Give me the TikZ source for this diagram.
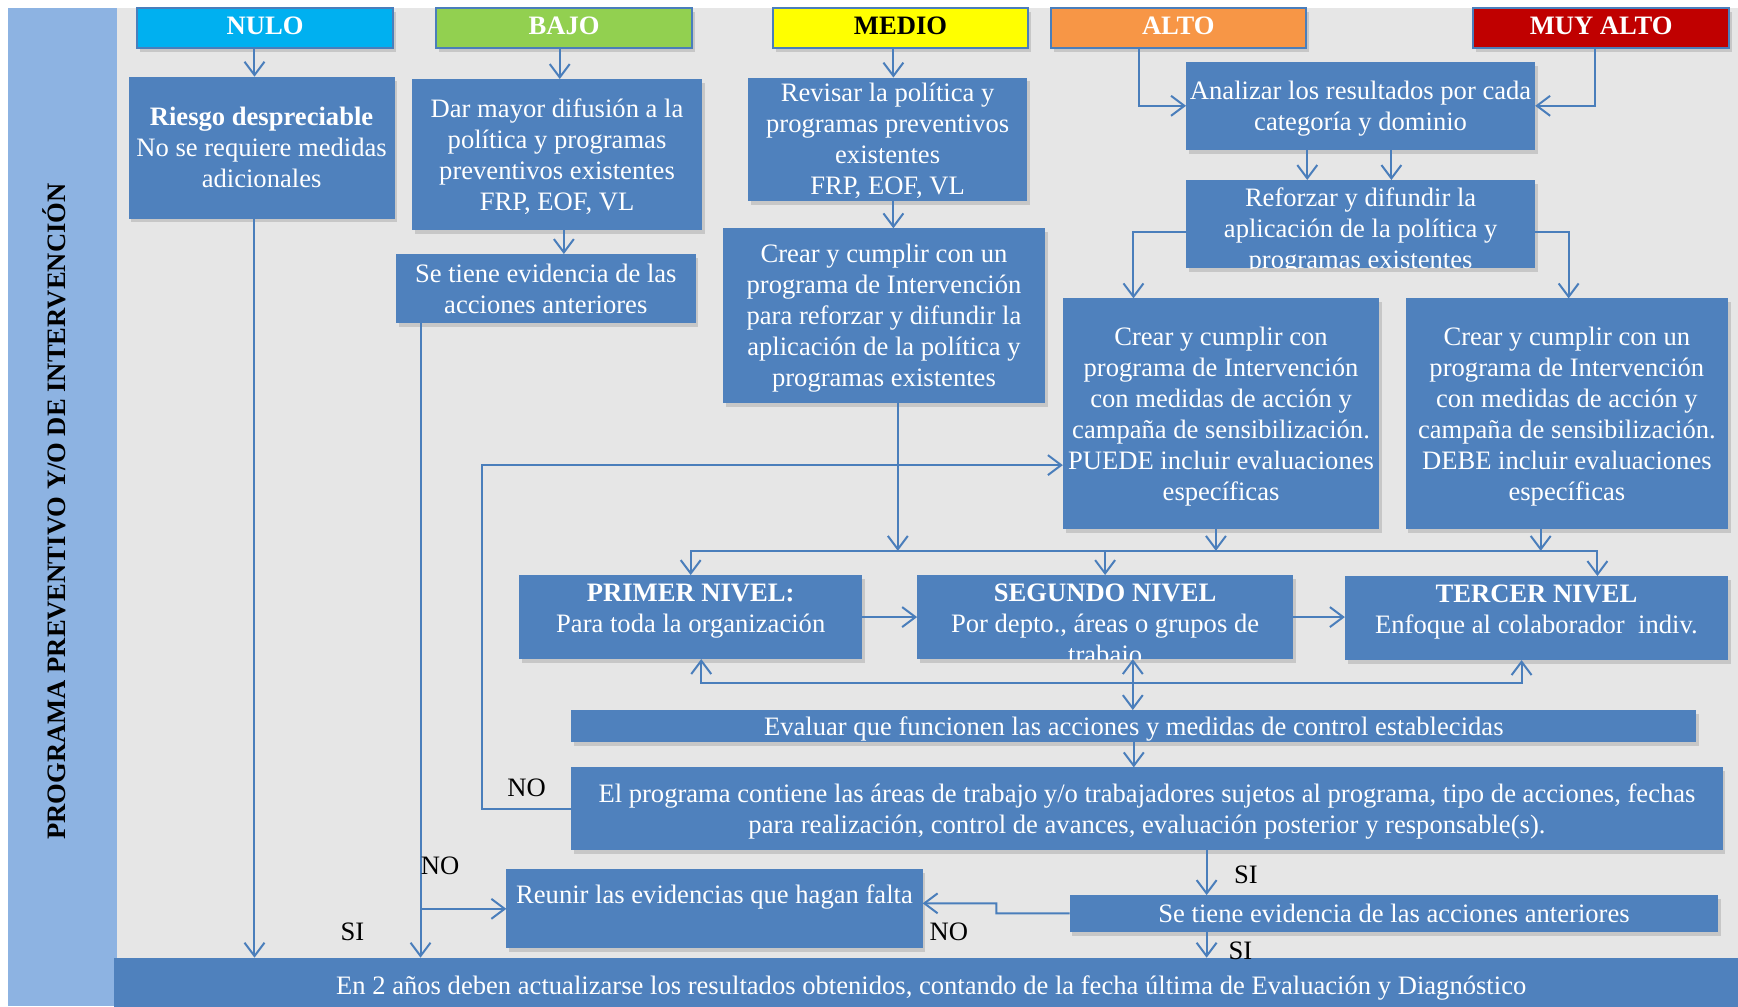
\documentclass[tikz,border=0pt]{standalone}
\usepackage{fontspec}
\setmainfont{Liberation Serif}
\usetikzlibrary{positioning, calc, arrows.meta, shadows}

\definecolor{boxblue}{HTML}{4F81BD}
\definecolor{lineblue}{HTML}{4A7EBB}
\definecolor{bandblue}{HTML}{8DB3E2}
\definecolor{bggray}{HTML}{E6E6E6}
\definecolor{nulocol}{HTML}{00B0F0}
\definecolor{bajocol}{HTML}{92D050}
\definecolor{mediocol}{HTML}{FFFF00}
\definecolor{altocol}{HTML}{F79646}
\definecolor{muycol}{HTML}{C00000}

\begin{document}
\begin{tikzpicture}[x=1pt, y=-1pt,
    box/.style={rectangle, fill=boxblue, text=white, align=center, anchor=north west,
      inner sep=0pt, outer sep=0pt, text depth=-1pt, font=\fontsize{24}{28}\selectfont,
      drop shadow={shadow xshift=2.5pt, shadow yshift=-3.5pt, opacity=.3}},
    head/.style={box, draw=lineblue, line width=1.5pt, text height=15.8pt, text depth=4pt,
      font=\fontsize{24}{28}\selectfont\bfseries},
    txt/.style={align=center, inner sep=0pt, text=white, font=\fontsize{24}{28}\selectfont},
    lbl/.style={inner sep=0pt, font=\fontsize{24}{28}\selectfont},
    link/.style={draw=lineblue, line width=1.8pt, ->},
    >={Straight Barb[length=12pt, width=18pt]}]

    \fill[white] (0,0) rectangle (1568,908);
    \useasboundingbox (0,0) rectangle (1568,908);
    \fill[bggray] (7,7.5) rectangle (1568,908);
    \fill[bandblue] (7,7.5) rectangle (105.5,908);
    \node[rotate=90, inner sep=0pt, font=\fontsize{24}{28}\selectfont\bfseries] (Titulo) at (49,461.5)
      {PROGRAMA PREVENTIVO Y/O DE INTERVENCIÓN};

    \node[head, fill=nulocol, minimum width=231, minimum height=36] (Nulo) at (123.6,7.5) {NULO};
    \node[head, fill=bajocol, minimum width=231, minimum height=36] (Bajo) at (393.5,7.5) {BAJO};
    \node[head, fill=mediocol, text=black, minimum width=230.5, minimum height=36] (Medio) at (697.2,7.5) {MEDIO};
    \node[head, fill=altocol, minimum width=230, minimum height=36] (Alto) at (948,7.5) {ALTO};
    \node[head, fill=muycol, minimum width=231, minimum height=36] (MuyAlto) at (1329,7.5) {MUY ALTO};

    \node[box, minimum width=240, minimum height=128] (Riesgo) at (116,69.2)
      {\textbf{Riesgo despreciable}\\No se requiere medidas\\adicionales};
    \node[box, minimum width=261.5, minimum height=136.2] (Difusion) at (371.8,71.3)
      {Dar mayor difusión a la\\política y programas\\preventivos existentes\\FRP, EOF, VL};
    \node[box, minimum width=270.2, minimum height=62.5] (EvidB) at (357.3,229.2)
      {Se tiene evidencia de las\\acciones anteriores};
    \node[box, minimum width=251.6, minimum height=111] (Revisar) at (675,70)
      {Revisar la política y\\programas preventivos\\existentes\\FRP, EOF, VL};
    \node[box, minimum width=290.4, minimum height=157.3] (CrearM) at (652.3,206)
      {Crear y cumplir con un\\programa de Intervención\\para reforzar y difundir la\\aplicación de la política y\\programas existentes};
    \node[box, minimum width=315, minimum height=79.7] (Analizar) at (1070,55.6)
      {Analizar los resultados por cada\\categoría y dominio};
    \node[box, minimum width=315, minimum height=79.7] (Reforzar) at (1070,162.4) {};
    \node[box, minimum width=285.4, minimum height=208.1] (CrearA) at (958.9,269.2)
      {Crear y cumplir con\\programa de Intervención\\con medidas de acción y\\campaña de sensibilización.\\PUEDE incluir evaluaciones\\específicas};
    \node[box, minimum width=290.8, minimum height=208.1] (CrearMA) at (1268.2,269.2)
      {Crear y cumplir con un\\programa de Intervención\\con medidas de acción y\\campaña de sensibilización.\\DEBE incluir evaluaciones\\específicas};
    \node[box, minimum width=309.5, minimum height=75.8] (Primer) at (468.4,518.8) {};
    \node[box, minimum width=339.2, minimum height=75.8] (Segundo) at (827.4,518.8) {};
    \node[box, minimum width=345.7, minimum height=75.8] (Tercer) at (1213.3,519.7) {};
    \node[box, minimum width=1015.2, minimum height=28.5] (Evaluar) at (515.3,640.6)
      {Evaluar que funcionen las acciones y medidas de control establecidas};
    \node[box, minimum width=1038.9, minimum height=74.6] (Contiene) at (515.3,692.3)
      {El programa contiene las áreas de trabajo y/o trabajadores sujetos al programa, tipo de acciones, fechas\\para realización, control de avances, evaluación posterior y responsable(s).};
    \node[box, minimum width=375.6, minimum height=71.3] (Reunir) at (456.8,784.3) {};
    \node[box, minimum width=585.3, minimum height=33.1] (EvidF) at (965,807.5)
      {Se tiene evidencia de las acciones anteriores};
    \node[box, minimum width=1475, minimum height=50] (Actualizar) at (102.6,864)
      {En 2 años deben actualizarse los resultados obtenidos, contando de la fecha última de Evaluación y Diagnóstico};

    \begin{scope}
      \clip (Reforzar.north west) rectangle (Reforzar.south east);
      \node[txt, below=7pt of Reforzar.north] (ReforzarT)
        {Reforzar y difundir la\\aplicación de la política y\\programas existentes};
    \end{scope}
    \begin{scope}
      \clip (Segundo.north west) rectangle (Segundo.south east);
      \node[txt, below=8pt of Segundo.north] (SegundoT)
        {\textbf{SEGUNDO NIVEL}\\Por depto., áreas o grupos de\\trabajo};
    \end{scope}
    \node[txt, below=8pt of Primer.north] (PrimerT) {\textbf{PRIMER NIVEL:}\\Para toda la organización};
    \node[txt, below=8pt of Tercer.north] (TercerT) {\textbf{TERCER NIVEL}\\Enfoque al colaborador~ indiv.};
    \node[txt, below=14pt of Reunir.north] (ReunirT) {Reunir las evidencias que hagan falta};

    \coordinate (xN) at (229.6,0);
    \coordinate (xB) at (505,0);
    \coordinate (xD) at (508.7,0);
    \coordinate (xE) at (379.4,0);
    \coordinate (xM) at (806,0);
    \coordinate (xA) at (1027.4,0);
    \coordinate (xMA) at (1439.4,0);
    \coordinate (xRA) at (1022.6,0);
    \coordinate (xRM) at (1415.2,0);
    \coordinate (xV) at (1022,0);
    \coordinate (xS) at (1088.6,0);
    \coordinate (bus) at (810,497);
    \coordinate (businf) at (1022,616.5);
    \coordinate (lazo) at (435,419.6);
    \coordinate (quiebre) at (899,815);

    \draw[link] (xN |- Nulo.south) -- (xN |- Riesgo.north);
    \draw[link] (xN |- Riesgo.south) -- (xN |- Actualizar.north);
    \draw[link] (xB |- Bajo.south) -- (xB |- Difusion.north);
    \draw[link] (xD |- Difusion.south) -- (xD |- EvidB.north);
    \draw[link] (xE |- EvidB.south) -- (xE |- Actualizar.north);
    \draw[link] (xE |- Reunir.west) -- (Reunir.west);
    \draw[link] (xM |- Medio.south) -- (xM |- Revisar.north);
    \draw[link] (xM |- Revisar.south) -- (xM |- CrearM.north);
    \draw[link] (bus |- CrearM.south) -- (bus);
    \draw[link] (bus) -| (Primer.north);
    \draw[link] (bus) -| ([xshift=55pt]Tercer.north);
    \draw[link] (bus -| Segundo.north) -- (Segundo.north);
    \draw[link] ([xshift=-4.6pt]CrearA.south) -- ([xshift=-4.6pt]CrearA.south |- bus);
    \draw[link] ([xshift=-23.6pt]CrearMA.south) -- ([xshift=-23.6pt]CrearMA.south |- bus);
    \draw[link] (xA |- Alto.south) |- (Analizar.west);
    \draw[link] (xMA |- MuyAlto.south) |- (Analizar.east);
    \draw[link] ([xshift=-48.1pt]Analizar.south) -- ([xshift=-48.1pt]Analizar.south |- Reforzar.north);
    \draw[link] ([xshift=27.8pt]Analizar.south) -- ([xshift=27.8pt]Analizar.south |- Reforzar.north);
    \draw[link] ([yshift=-6.8pt]Reforzar.west) -| (xRA |- CrearA.north);
    \draw[link] ([yshift=-6.8pt]Reforzar.east) -| (xRM |- CrearMA.north);
    \draw[link] (Contiene.west) -| (lazo) -- (lazo -| CrearA.west);
    \draw[link] (Primer.east) -- (Segundo.west);
    \draw[link] (Segundo.east) -- (Segundo.east -| Tercer.west);
    \draw[link] (businf) -| ([xshift=9.5pt]Primer.south);
    \draw[link] (businf) -| ([xshift=-13.4pt]Tercer.south);
    \draw[link, <->] (xV |- Segundo.south) -- (xV |- Evaluar.north);
    \draw[link] (Evaluar.south) -- (Evaluar.south |- Contiene.north);
    \draw[link] (xS |- Contiene.south) -- (xS |- EvidF.north);
    \draw[link] (xS |- EvidF.south) -- (xS |- Actualizar.north);
    \draw[link] (EvidF.west) -| (quiebre) -- ([yshift=5pt]Reunir.east);

    \node[lbl] (SiA) at (318,841) {SI};
    \node[lbl] (NoA) at (397,781) {NO};
    \node[lbl] (NoB) at (475,711) {NO};
    \node[lbl] (SiB) at (1124,789) {SI};
    \node[lbl] (SiC) at (1119,858) {SI};
    \node[lbl] (NoC) at (856,841) {NO};
  \end{tikzpicture}
\end{document}
